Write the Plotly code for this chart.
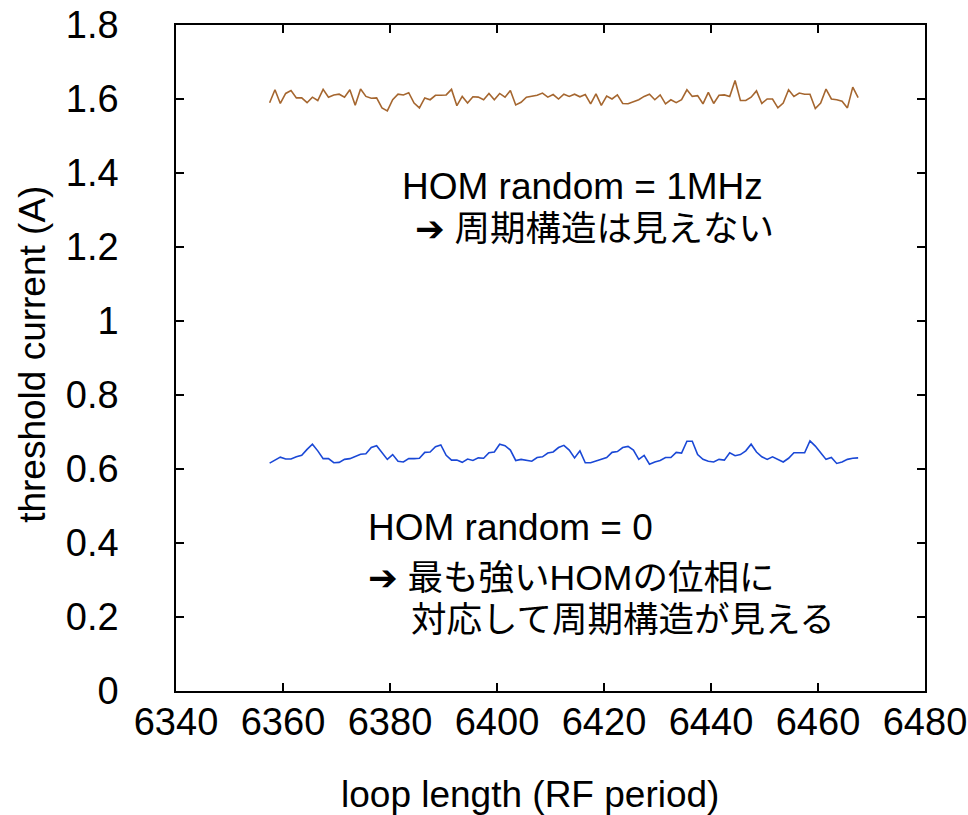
import plotly.graph_objects as go

x_start = 6357.5
n_points = 111
loop_length = [x_start + i for i in range(n_points)]

hom_random_1mhz = [
    1.590, 1.625, 1.588, 1.615, 1.623, 1.603, 1.603, 1.590, 1.605, 1.596,
    1.626, 1.605, 1.611, 1.613, 1.605, 1.625, 1.583, 1.627, 1.607, 1.602,
    1.603, 1.576, 1.568, 1.598, 1.613, 1.611, 1.617, 1.589, 1.576, 1.603,
    1.598, 1.610, 1.610, 1.611, 1.626, 1.582, 1.607, 1.589, 1.606, 1.605,
    1.598, 1.615, 1.598, 1.615, 1.605, 1.623, 1.584, 1.591, 1.605, 1.608,
    1.610, 1.616, 1.605, 1.612, 1.600, 1.613, 1.607, 1.613, 1.606, 1.612,
    1.587, 1.614, 1.583, 1.608, 1.600, 1.611, 1.588, 1.587, 1.592, 1.598,
    1.607, 1.613, 1.598, 1.611, 1.587, 1.598, 1.590, 1.598, 1.625, 1.607,
    1.609, 1.587, 1.618, 1.588, 1.610, 1.611, 1.607, 1.650, 1.596, 1.596,
    1.605, 1.622, 1.588, 1.600, 1.600, 1.576, 1.589, 1.625, 1.607, 1.616,
    1.613, 1.613, 1.574, 1.589, 1.627, 1.600, 1.598, 1.594, 1.576, 1.632,
    1.604,
]

hom_random_0 = [
    0.616, 0.624, 0.632, 0.627, 0.627, 0.633, 0.637, 0.653, 0.667, 0.649,
    0.628, 0.628, 0.617, 0.618, 0.626, 0.628, 0.633, 0.640, 0.641, 0.658,
    0.663, 0.644, 0.626, 0.639, 0.621, 0.619, 0.628, 0.628, 0.629, 0.645,
    0.646, 0.660, 0.665, 0.637, 0.624, 0.624, 0.618, 0.627, 0.623, 0.630,
    0.629, 0.644, 0.646, 0.667, 0.663, 0.651, 0.623, 0.626, 0.624, 0.621,
    0.631, 0.633, 0.643, 0.646, 0.658, 0.664, 0.651, 0.630, 0.649, 0.617,
    0.617, 0.622, 0.628, 0.631, 0.645, 0.647, 0.658, 0.661, 0.651, 0.626,
    0.637, 0.613, 0.619, 0.623, 0.631, 0.631, 0.645, 0.643, 0.675, 0.675,
    0.639, 0.626, 0.621, 0.619, 0.626, 0.624, 0.644, 0.636, 0.639, 0.649,
    0.667, 0.646, 0.633, 0.626, 0.633, 0.626, 0.619, 0.629, 0.644, 0.644,
    0.644, 0.676, 0.662, 0.644, 0.626, 0.631, 0.615, 0.619, 0.626, 0.629,
    0.630,
]

x_ticks = [6340, 6360, 6380, 6400, 6420, 6440, 6460, 6480]
y_ticks = [0, 0.2, 0.4, 0.6, 0.8, 1, 1.2, 1.4, 1.6, 1.8]
y_tick_labels = ["0", "0.2", "0.4", "0.6", "0.8", "1", "1.2", "1.4", "1.6", "1.8"]

FONT = "Liberation Sans, Arial, Noto Sans CJK JP, sans-serif"
ARROW_FONT = "DejaVu Sans, Noto Sans CJK JP, sans-serif"

fig = go.Figure()
fig.add_trace(go.Scatter(x=loop_length, y=hom_random_1mhz, mode="lines",
                         line=dict(color="#A5662F", width=1.6),
                         name="HOM random = 1MHz", showlegend=False))
fig.add_trace(go.Scatter(x=loop_length, y=hom_random_0, mode="lines",
                         line=dict(color="#1A48D6", width=1.6),
                         name="HOM random = 0", showlegend=False))

ARW = f'<span style="font-family:{ARROW_FONT}">➔</span>'
texts = [
    (6381.9, 1.364, "HOM random = 1MHz", 37),
    (6384.3, 1.251, ARW + " 周期構造は見えない", 35.5),
    (6375.5, 0.443, "HOM random = 0", 37),
    (6375.5, 0.308, ARW + " 最も強いHOMの位相に", 35.5),
    (6383.6, 0.192, "対応して周期構造が見える", 35.5),
]
for tx, ty, tt, fs in texts:
    fig.add_annotation(x=tx, y=ty, text=tt, showarrow=False,
                       xanchor="left", yanchor="middle",
                       font=dict(family=FONT, size=fs, color="black"))

# axis titles placed as paper annotations to match the reference offsets
fig.add_annotation(x=0.4726, y=-0.156, xref="paper", yref="paper",
                   text="loop length (RF period)", showarrow=False,
                   xanchor="center", yanchor="middle",
                   font=dict(family=FONT, size=37, color="black"))
fig.add_annotation(x=-0.192, y=0.505, xref="paper", yref="paper",
                   text="threshold current (A)", showarrow=False, textangle=-90,
                   xanchor="center", yanchor="middle",
                   font=dict(family=FONT, size=37, color="black"))

axis_common = dict(
    showline=True, linecolor="black", linewidth=1.5, mirror="allticks",
    ticks="inside", ticklen=8, tickwidth=1.5, tickcolor="black",
    showgrid=False, zeroline=False, automargin=False,
    ticklabeloverflow="allow",
    tickfont=dict(family=FONT, size=38, color="black"),
)

fig.update_layout(
    width=968, height=815,
    margin=dict(l=176, r=43, t=25, b=124),
    paper_bgcolor="white", plot_bgcolor="white",
    xaxis=dict(range=[6340, 6480], tickvals=x_ticks,
               ticklabelstandoff=-3, **axis_common),
    yaxis=dict(range=[0, 1.8], tickvals=y_ticks, ticktext=y_tick_labels,
               ticklabelstandoff=48, **axis_common),
)

fig.write_html(
    "out.html",
    config={"displayModeBar": False},
    post_script="document.body.style.margin='0';document.body.style.overflow='hidden';",
)
